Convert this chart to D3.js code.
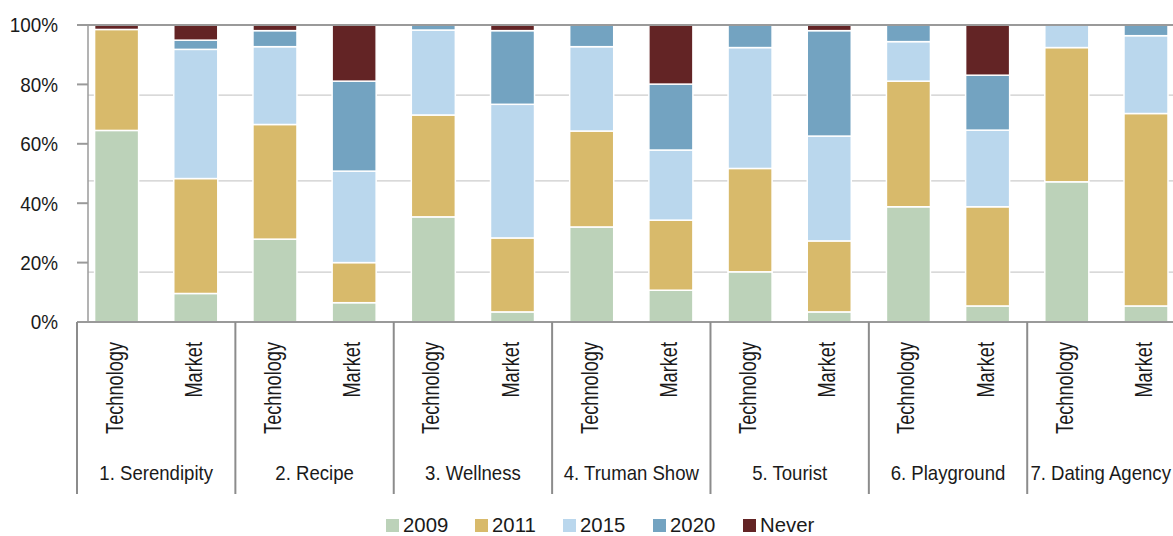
<!DOCTYPE html>
<html>
<head>
<meta charset="utf-8">
<script src="https://cdn.jsdelivr.net/npm/d3@7"></script>
<style>
  html, body { margin: 0; padding: 0; background: #fff; }
  svg text { font-family: "Liberation Sans", Arial, sans-serif; fill: #1a1a1a; }
</style>
</head>
<body>
<svg id="chart" width="1173" height="536"></svg>
<script>
// ---- data ----
const groups = ["1. Serendipity", "2. Recipe", "3. Wellness", "4. Truman Show", "5. Tourist", "6. Playground", "7. Dating Agency"];
const subCategories = ["Technology", "Market"];
const seriesNames = ["2009", "2011", "2015", "2020", "Never"];
const seriesColors = ["#bcd2b9", "#d8ba6b", "#bad7ed", "#73a3c1", "#632425"];
// values in %, per bar (group x subcategory), order: Serendipity Tech, Serendipity Market, ...
const v2009  = [64.5, 9.6, 27.9, 6.5, 35.4, 3.4, 32.0, 10.7, 16.9, 3.4, 38.8, 5.4, 47.2, 5.4];
const v2011  = [34.0, 38.7, 38.6, 13.5, 34.3, 24.9, 32.3, 23.6, 34.8, 23.9, 42.3, 33.4, 45.2, 64.8];
const v2015  = [0.0, 43.5, 26.2, 30.8, 28.6, 45.0, 28.4, 23.6, 40.7, 35.3, 13.3, 25.8, 7.6, 26.2];
const v2020  = [0.0, 3.1, 5.4, 30.3, 1.7, 24.8, 7.3, 22.2, 7.6, 35.5, 5.6, 18.5, 0.0, 3.6];
const vNever = [1.5, 5.1, 1.9, 18.9, 0.0, 1.9, 0.0, 19.9, 0.0, 1.9, 0.0, 16.9, 0.0, 0.0];
const yTicks = [0, 20, 40, 60, 80, 100];
const refLines = [16.8, 47.5, 76.4];

// ---- build table ----
const seriesValues = [v2009, v2011, v2015, v2020, vNever];
const rows = [];
groups.forEach((g, gi) => subCategories.forEach((s, si) => {
  const idx = gi * subCategories.length + si;
  const r = { key: g + "|" + s, group: g, sub: s };
  seriesNames.forEach((n, k) => r[n] = seriesValues[k][idx]);
  rows.push(r);
}));

const W = 1173;
const svg = d3.select("#chart");
const x0 = 77, x1 = 77 + 158.37 * groups.length;
const y = d3.scaleLinear().domain([0, 100]).range([322, 25]);
const xBar = d3.scaleBand().domain(rows.map(d => d.key)).range([x0, x1]).paddingInner(0.444).paddingOuter(0.222);
const xGroup = d3.scaleBand().domain(groups).range([x0, x1]).padding(0);
const color = d3.scaleOrdinal().domain(seriesNames).range(seriesColors);

// reference gridlines
svg.append("g").selectAll("line").data(refLines).join("line")
  .attr("x1", 88).attr("x2", W)
  .attr("y1", d => y(d)).attr("y2", d => y(d))
  .attr("stroke", "#cccccc").attr("stroke-width", 1.2);

// stacked bars
const stack = d3.stack().keys(seriesNames)(rows);
svg.append("g").selectAll("g").data(stack).join("g")
  .attr("fill", d => color(d.key))
  .selectAll("rect").data(d => d.filter(p => p[1] - p[0] > 0)).join("rect")
  .attr("x", d => xBar(d.data.key))
  .attr("width", xBar.bandwidth())
  .attr("y", d => y(d[1]))
  .attr("height", d => y(d[0]) - y(d[1]))
  .attr("stroke", "#ffffff").attr("stroke-width", 1.5);

// y axis
const axisColor = "#9a9a9a";
svg.append("line").attr("x1", 88).attr("x2", 88).attr("y1", y(100)).attr("y2", y(0))
  .attr("stroke", axisColor).attr("stroke-width", 1.5);
svg.append("g").selectAll("line").data(yTicks).join("line")
  .attr("x1", 77).attr("x2", d => d === 100 || d === 0 ? W : 88)
  .attr("y1", d => y(d)).attr("y2", d => y(d))
  .attr("stroke", axisColor).attr("stroke-width", 2);
svg.append("g").selectAll("text").data(yTicks).join("text")
  .attr("transform", d => `translate(58,${y(d)}) scale(0.9,1)`)
  .attr("dy", "0.35em")
  .attr("text-anchor", "end").attr("font-size", 21)
  .text(d => d + "%");

// x axis group separators
const seps = groups.map(g => xGroup(g)).concat([x1]);
svg.append("g").selectAll("line").data(seps).join("line")
  .attr("x1", d => d).attr("x2", d => d).attr("y1", y(0)).attr("y2", 494)
  .attr("stroke", "#8c8c8c").attr("stroke-width", 2);

// sub-category labels (rotated)
svg.append("g").selectAll("text").data(rows).join("text")
  .attr("transform", d => `translate(${xBar(d.key) + xBar.bandwidth() / 2 + 6},342) rotate(-90) scale(0.79,1)`)
  .attr("text-anchor", "end").attr("font-size", 23)
  .text(d => d.sub);

// group labels (kept inside the picture)
const gsx = 0.93;
svg.append("g").selectAll("text").data(groups).join("text")
  .attr("text-anchor", "middle").attr("font-size", 20)
  .text(g => g)
  .attr("transform", function(g) {
    const w = this.getComputedTextLength() * gsx;
    let cx = xGroup(g) + xGroup.bandwidth() / 2;
    if (cx + w / 2 > W - 2) cx = W - 2 - w / 2;
    return `translate(${cx},480) scale(${gsx},1)`;
  });

// legend
const legendX = [386, 475, 563, 653, 743];
const lg = svg.append("g").selectAll("g").data(seriesNames).join("g")
  .attr("transform", (d, i) => `translate(${legendX[i]},519)`);
lg.append("rect").attr("width", 13).attr("height", 13).attr("fill", d => color(d));
lg.append("text").attr("transform", "translate(17,12.5) scale(0.97,1)")
  .attr("font-size", 21).text(d => d);
</script>
</body>
</html>
